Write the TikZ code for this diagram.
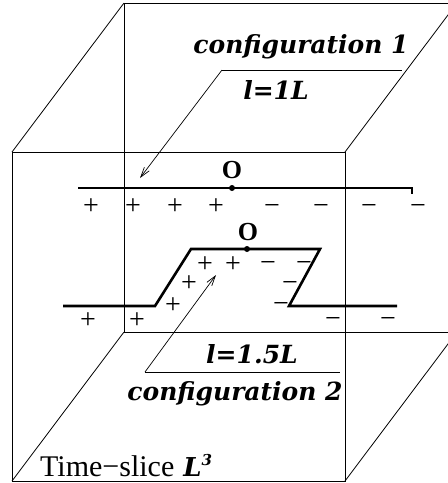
\documentclass[tikz,border=0pt]{standalone}
\usepackage{fontspec}
\setmainfont{Liberation Serif}
\newfontfamily\tagfont{DejaVu Serif}
\usetikzlibrary{arrows.meta}

\begin{document}
\begin{tikzpicture}[x=1pt, y=-1pt, >={Straight Barb[length=10pt,width=6pt]},
	every node/.style={inner sep=0pt},
	cube/.style={line width=0.8pt},
	cfg/.style={line width=2.6pt},
	lead/.style={line width=0.7pt},
	tag/.style={font=\tagfont\bfseries\itshape\fontsize{25}{25}\selectfont, anchor=base},
	sgn/.style={font=\fontsize{28}{28}\selectfont, text height=14pt, text depth=0pt}]
	\useasboundingbox (0,0) rectangle (448,483);
	\clip (0,0) rectangle (448,483);
	\draw[cube] (124,3) rectangle (457,332);
	\draw[cube] (12,152) rectangle (345,481);
	\foreach \x/\y in {12/152, 345/152, 12/481, 345/481} {\draw[cube] (\x,\y) -- ++(112,-149);}
	\node[tag] (conf1) at (301,53) {configuration 1};
	\node[tag] (len1) at (276,99) {l=1L};
	\coordinate (k1) at (222,70);
	\coordinate (u1) at (402,70);
	\coordinate (t1) at (140,178);
	\draw[lead] (k1) -- (u1);
	\draw[lead, ->] (k1) -- (t1);
	\draw[cfg] (78,188) -- (412,188) -- (412,194);
	\fill (232,188) coordinate (d1) circle (3pt);
	\node[font=\bfseries\fontsize{26}{26}\selectfont, anchor=base] (o1) at (232,178) {O};
	\foreach \x in {91, 133, 175, 216} {\node[sgn] at (\x,207) {+};}
	\foreach \x in {272, 321, 369, 418} {\node[sgn] at (\x,207) {−};}
	\draw[cfg] (63,306) -- (155,306) -- (191,249) -- (320,249) -- (289,306) -- (397,306);
	\fill (247,249) coordinate (d2) circle (3pt);
	\node[font=\bfseries\fontsize{26}{26}\selectfont, anchor=base] (o2) at (248,240) {O};
	\foreach \x/\y in {205/265, 233/265, 189/284, 173/306, 88/321, 137/321} {\node[sgn] at (\x,\y) {+};}
	\foreach \x/\y in {268/264, 304/264, 290/284, 281/305, 333/320, 388/320} {\node[sgn] at (\x,\y) {−};}
	\coordinate (t2) at (216,275);
	\coordinate (k2) at (145,372);
	\coordinate (u2) at (340,372);
	\draw[lead] (k2) -- (u2);
	\draw[lead, ->] (k2) -- (t2);
	\node[tag] (len2) at (252,363) {l=1.5L};
	\node[tag] (conf2) at (235,400) {configuration 2};
	\node[anchor=base west, font=\fontsize{30}{30}\selectfont] (slice) at (40,476) {Time−slice\hspace{9pt}{\tagfont\bfseries\itshape\fontsize{26}{26}\selectfont L\raisebox{11pt}{\fontsize{15}{15}\selectfont 3}}};
\end{tikzpicture}
\end{document}
